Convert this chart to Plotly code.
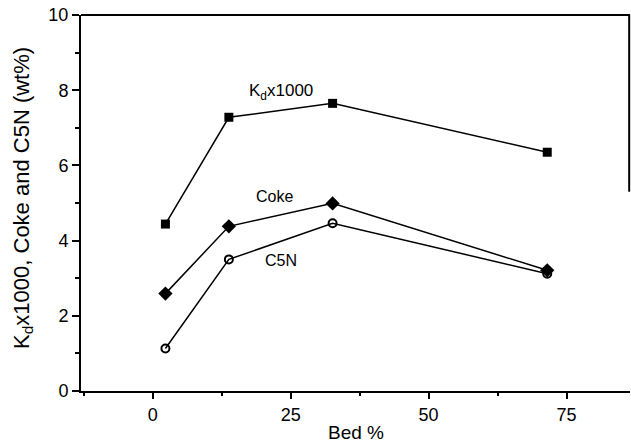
import plotly.graph_objects as go

bed_pct = [2.3, 13.8, 32.6, 71.5]
kd_x1000 = [4.44, 7.28, 7.65, 6.35]
coke = [2.59, 4.38, 4.99, 3.21]
c5n = [1.13, 3.5, 4.46, 3.12]

series_labels = ["K<sub>d</sub>x1000", "Coke", "C5N"]
label_pos = [(23.2, 7.95), (22.1, 5.16), (23.2, 3.46)]
label_sizes = [17, 16, 16]

FONT = "Liberation Sans, Arial, Helvetica, sans-serif"

fig = go.Figure()
line = dict(color="black", width=1.5)
fig.add_trace(go.Scatter(x=bed_pct, y=kd_x1000, mode="lines+markers", line=line,
                         marker=dict(symbol="square", size=9, color="black")))
fig.add_trace(go.Scatter(x=bed_pct, y=coke, mode="lines+markers", line=line,
                         marker=dict(symbol="diamond", size=11, color="black")))
fig.add_trace(go.Scatter(x=bed_pct, y=c5n, mode="lines+markers", line=line,
                         marker=dict(symbol="circle-open", size=8, color="black",
                                     line=dict(width=2, color="black"))))

for txt, (lx, ly), sz in zip(series_labels, label_pos, label_sizes):
    fig.add_annotation(x=lx, y=ly, text=txt, showarrow=False,
                       font=dict(family=FONT, size=sz, color="black"))

# axis titles
fig.add_annotation(xref="paper", yref="paper", x=-0.106, y=0.513,
                   text="K<sub>d</sub>x1000, Coke and C5N (wt%)",
                   textangle=-90, showarrow=False, xanchor="center", yanchor="middle",
                   font=dict(family=FONT, size=22, color="black"))
fig.add_annotation(xref="paper", yref="paper", x=0.5, y=-0.143, text="Bed %",
                   showarrow=False, xanchor="center", yanchor="bottom",
                   font=dict(family=FONT, size=19, color="black"))

# top frame line and partial right frame line
fig.add_shape(type="line", xref="paper", yref="paper", x0=0, x1=1, y0=1, y1=1,
              line=dict(color="black", width=2))
fig.add_shape(type="line", xref="paper", yref="y", x0=0.9985, x1=0.9985, y0=10, y1=5.3,
              line=dict(color="black", width=2))

fig.update_xaxes(range=[-13, 86.5], tickvals=[0, 25, 50, 75], ticks="outside", ticklen=6,
                 tickwidth=2, tickcolor="black", showline=True, linecolor="black", linewidth=2,
                 showgrid=False, zeroline=False,
                 minor=dict(tickvals=[-12.5, 12.5, 37.5, 62.5], ticks="outside", ticklen=3,
                            tickwidth=2, tickcolor="black"),
                 tickfont=dict(family=FONT, size=18, color="black"))
fig.update_yaxes(range=[0, 10], tickvals=[0, 2, 4, 6, 8, 10], ticks="outside", ticklen=7,
                 tickwidth=2, tickcolor="black", showline=True, linecolor="black", linewidth=2,
                 showgrid=False, zeroline=False,
                 minor=dict(tickvals=[1, 3, 5, 7, 9], ticks="outside", ticklen=4,
                            tickwidth=2, tickcolor="black"),
                 tickfont=dict(family=FONT, size=18, color="black"))

fig.update_layout(width=631, height=445, showlegend=False,
                  margin=dict(l=81, r=1, t=15, b=54),
                  plot_bgcolor="white", paper_bgcolor="white",
                  font=dict(family=FONT, color="black"))

fig.write_html("out.html")
